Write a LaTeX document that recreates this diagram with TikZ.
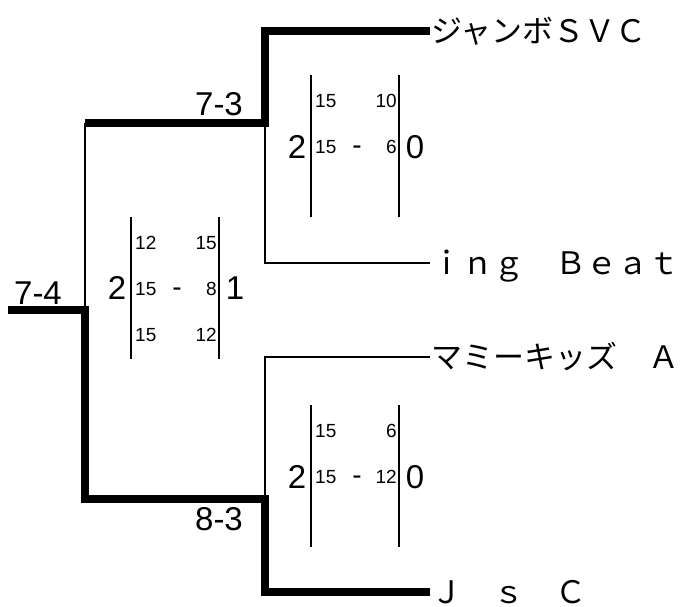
\documentclass[tikz,border=0pt]{standalone}
\usepackage{fontspec}
\setmainfont{Liberation Sans}
\newfontfamily\jpfont{Noto Sans CJK JP}
\tikzset{
	win/.style={line width=7.5pt},
	lose/.style={line width=2.5pt},
	bar/.style={line width=2.8pt},
	big/.style={inner sep=0pt, font=\fontsize{33}{33}\selectfont},
	small/.style={inner sep=0pt, font=\fontsize{19}{19}\selectfont},
	hyph/.style={inner sep=0pt, font=\fontsize{28}{28}\selectfont},
	team/.style={inner sep=0pt, anchor=base west, font=\jpfont\fontsize{31}{31}\selectfont},
}
\begin{document}
\begin{tikzpicture}[x=1pt,y=-1pt]
	\useasboundingbox (0,0) rectangle (684,606);
	% bracket points
	\coordinate (root) at (8,310);
	\coordinate (f) at (85,310);
	\coordinate (su) at (85,123);
	\coordinate (sl) at (85,499);
	\coordinate (mu) at (265,123);
	\coordinate (ml) at (265,499);
	\coordinate (e1) at (430,31);
	\coordinate (e2) at (430,263);
	\coordinate (e3) at (430,357);
	\coordinate (e4) at (430,592);
	% teams
	\node[team] (t1) at (431,42) {ジャンボＳＶＣ};
	\node[team] (t2) at (431,274) {ｉｎｇ　Ｂｅａｔ};
	\node[team] (t3) at (431,368) {マミーキッズ　Ａ};
	\node[team] (t4) at (431,603) {Ｊ　ｓ　Ｃ};
	% lines
	\draw[win] (root) -- (f) -- (sl) -- (ml) -- (ml |- e4) -- (e4);
	\draw[lose] (f) -- (su);
	\draw[win] (su) -- (mu) -- (mu |- e1) -- (e1);
	\draw[lose] (mu) -- (mu |- e2) -- (e2);
	\draw[lose] (ml) -- (ml |- e3) -- (e3);
	% match labels
	\node[big] (l74) at (38,293) {7-4};
	\node[big] (l73) at (219,104) {7-3};
	\node[big] (l83) at (219,519) {8-3};
	% final
	\draw[bar] (131,217) -- (131,359);
	\draw[bar] (219,217) -- (219,359);
	\node[big] (fa) at (117,288) {2};
	\node[big] (fb) at (235,288) {1};
	\node[small, anchor=west] at (135,243) {12};
	\node[small, anchor=east] at (217,243) {15};
	\node[small, anchor=west] at (135,289) {15};
	\node[hyph] at (177,292) {-};
	\node[small, anchor=east] at (217,289) {8};
	\node[small, anchor=west] at (135,335) {15};
	\node[small, anchor=east] at (217,335) {12};
	% semi 1
	\draw[bar] (311,75) -- (311,217);
	\draw[bar] (399,75) -- (399,217);
	\node[big] (sa) at (297,147) {2};
	\node[big] (sb) at (415,147) {0};
	\node[small, anchor=west] at (315,101) {15};
	\node[small, anchor=east] at (397,101) {10};
	\node[small, anchor=west] at (315,147) {15};
	\node[hyph] at (357,150) {-};
	\node[small, anchor=east] at (397,147) {6};
	% semi 2
	\draw[bar] (311,405) -- (311,547);
	\draw[bar] (399,405) -- (399,547);
	\node[big] (ta) at (297,477) {2};
	\node[big] (tb) at (415,477) {0};
	\node[small, anchor=west] at (315,431) {15};
	\node[small, anchor=east] at (397,431) {6};
	\node[small, anchor=west] at (315,477) {15};
	\node[hyph] at (357,480) {-};
	\node[small, anchor=east] at (397,477) {12};
\end{tikzpicture}
\end{document}
